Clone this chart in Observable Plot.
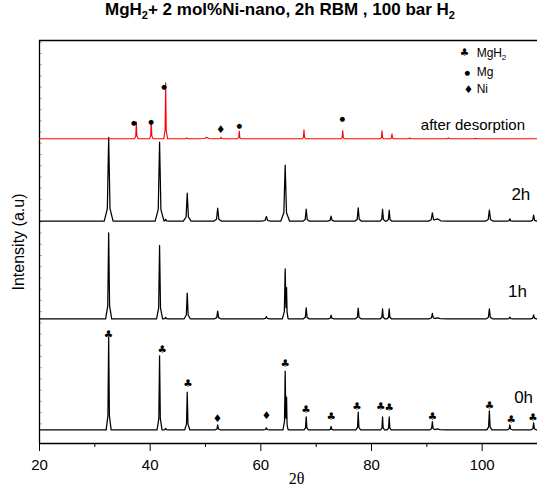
<!DOCTYPE html>
<html><head><meta charset="utf-8">
<script src="https://cdn.jsdelivr.net/npm/d3@7"></script>
<script src="https://cdn.jsdelivr.net/npm/@observablehq/plot@0.6"></script>
<style>
body{margin:0;background:#fff;}
#title{width:537px;height:34px;line-height:34px;box-sizing:border-box;padding-left:23px;text-align:center;font:bold 17px "Liberation Sans",Arial,sans-serif;color:#000;white-space:nowrap;}
#title sub{font-size:11px;vertical-align:-4px;line-height:0;}
</style></head><body>
<div id="title">MgH<sub>2</sub>+ 2 mol%Ni-nano, 2h RBM , 100 bar H<sub>2</sub></div>
<div id="chart"></div>
<script>
// ---- axis ticks ----
const xTicks = [20, 40, 60, 80, 100];
const xMinorTicks = [30, 50, 70, 90, 110];

// ---- hydride patterns (0h, 1h, 2h): peak positions (2θ), heights (a.u.), half-base widths (°) ----
const hydPos = [32.5, 41.7, 42.8, 46.7, 52.2, 61.0, 64.4, 64.65, 68.2, 72.7, 77.6, 82.0, 83.2, 91.0, 91.9, 101.3, 105.0, 109.3];
const h0h   = [92.6, 74, 1.5, 37.6, 5, 2, 57.6, 28, 13, 3.3, 17.6, 13, 13, 8, 1, 19, 5, 7];
const h1h   = [86, 73.3, 1.5, 25.7, 7.7, 2.3, 49, 26, 11, 3.7, 10.7, 10, 10, 5.3, 1, 10, 1.7, 4];
const h2h   = [83.7, 79, 2, 28, 13, 4.7, 56, 0, 12, 5, 13.3, 12, 11, 8, 2.5, 11, 2.3, 6];
const w0h   = [0.45, 0.45, 0.4, 0.45, 0.45, 0.5, 0.4, 0.3, 0.4, 0.4, 0.4, 0.35, 0.35, 0.45, 1.5, 0.45, 0.45, 0.45];
const w1h   = [0.55, 0.55, 0.45, 0.55, 0.55, 0.6, 0.5, 0.3, 0.5, 0.5, 0.5, 0.4, 0.4, 0.55, 1.8, 0.55, 0.5, 0.5];
const w2h   = [0.8, 0.8, 0.6, 0.7, 0.7, 0.8, 0.8, 0.3, 0.6, 0.6, 0.6, 0.5, 0.5, 0.7, 2.0, 0.7, 0.6, 0.6];

// ---- after desorption pattern ----
const desPos = [37.5, 40.2, 42.8, 46.6, 50.2, 52.8, 56.1, 67.8, 74.8, 81.9, 83.7, 86.9, 93.9, 98.8];
const desH   = [16.7, 18, 56, 1, 1.5, 1.5, 7.7, 9, 8.3, 8, 5, 1, 1, 0.7];
const desW   = [0.35, 0.35, 0.35, 0.5, 1.2, 0.5, 0.35, 0.35, 0.35, 0.35, 0.35, 0.5, 0.5, 0.5];

// ---- traces ----
const traceNames   = ["0h", "1h", "2h", "after desorption"];
const traceOffsets = [13.7, 124.7, 222.3, 304.7];
const labelRise    = [32, 27.6, 26.7, 13.3];
const labelRight   = [109.2, 108.1, 108.7, 107.75];

// ---- phase markers ----
const mgh2MarkPos  = [32.47, 42.17, 46.81, 64.39, 68.17, 72.7, 77.39, 81.68, 83.18, 91.0, 101.3, 105.27, 109.2];
const mgh2MarkRise = [95, 80, 46.6, 66, 20.3, 13.3, 23.3, 23, 22.3, 13.3, 24.3, 10, 12.6];
const ni0hMarkPos  = [52.16, 61.01];
const ni0hMarkRise = [11, 14];
const mgDesMarkPos  = [37.06, 40.18, 42.53, 56.13, 74.74];
const mgDesMarkRise = [15.6, 16.6, 51.6, 12.6, 19.6];
const niDesMarkPos  = [52.77];
const niDesMarkRise = [9];

// ---- legend ----
const legendSymbols = ["♣", "●", "♦"];
const legendNames   = ["MgH", "Mg", "Ni"];
const legendSubs    = ["2", "", ""];
const legendY       = [390.5, 371, 354.3];
const legendSymX    = [96.8, 97.3, 97.5];
const legendTextX   = 99.0;

const yTop = 403;

// peak shape template (piecewise linear)
const SHAPE_DX = [-1, -0.3, 0, 0.3, 1], SHAPE_FR = [0, 0.15, 1, 0.15, 0];
function shapeAt(d, x) {
  if (x <= d.p - d.w || x >= d.p + d.w) return 0;
  for (let i = 0; i < 4; i++) {
    const x0 = d.p + SHAPE_DX[i] * d.w, x1 = d.p + SHAPE_DX[i + 1] * d.w;
    if (x >= x0 && x <= x1) return d.h * (SHAPE_FR[i] + (SHAPE_FR[i + 1] - SHAPE_FR[i]) * (x - x0) / (x1 - x0));
  }
  return 0;
}
function profile(pos, hts, wds, offset, name) {
  const peaks = pos.map((p, i) => ({p, h: hts[i], w: wds[i]})).filter(d => d.h > 0);
  const xs = new Set([20, 110]);
  peaks.forEach(d => SHAPE_DX.forEach(k => xs.add(d.p + k * d.w)));
  return [...xs].filter(x => x >= 20 && x <= 110).sort((a, b) => a - b)
    .map(x => ({x, y: offset + d3.sum(peaks, d => shapeAt(d, x)), trace: name}));
}

const tr0 = profile(hydPos, h0h, w0h, traceOffsets[0], traceNames[0]);
const tr1 = profile(hydPos, h1h, w1h, traceOffsets[1], traceNames[1]);
const tr2 = profile(hydPos, h2h, w2h, traceOffsets[2], traceNames[2]);
const trD = profile(desPos, desH, desW, traceOffsets[3], traceNames[3]);

const markers = [
  ...mgh2MarkPos.map((x, i) => ({x, y: traceOffsets[0] + mgh2MarkRise[i], s: "♣"})),
  ...ni0hMarkPos.map((x, i) => ({x, y: traceOffsets[0] + ni0hMarkRise[i], s: "♦"})),
  ...mgDesMarkPos.map((x, i) => ({x, y: traceOffsets[3] + mgDesMarkRise[i], s: "●"})),
  ...niDesMarkPos.map((x, i) => ({x, y: traceOffsets[3] + niDesMarkRise[i], s: "♦"}))
];
const symSize = {"♣": 10.5, "●": 6.5, "♦": 10.5};

const yTicks = d3.range(19.7, yTop, 11.22);

const chart = Plot.plot({
  width: 537, height: 452,
  marginTop: 6, marginBottom: 43, marginLeft: 39, marginRight: 0,
  x: {domain: [20, 110]},
  y: {domain: [0, yTop], axis: null},
  style: {fontFamily: "'Liberation Sans', Arial, sans-serif", background: "#fff", color: "#000"},
  marks: [
    Plot.ruleY(yTicks, {x1: 20, x2: 20.55, stroke: "#999", strokeWidth: 0.8}),
    Plot.axisX({ticks: xTicks, tickSize: 8, tickPadding: 8, fontSize: 15, label: null, tickFormat: d => String(d)}),
    Plot.axisX({ticks: xMinorTicks, tickSize: 4, tickFormat: () => "", label: null}),
    Plot.ruleY([0], {strokeWidth: 1.3}),
    Plot.ruleY([yTop], {strokeWidth: 1.3}),
    Plot.ruleX([20], {strokeWidth: 1.3}),
    Plot.line(tr0, {x: "x", y: "y", stroke: "#000", strokeWidth: 1.25}),
    Plot.line(tr1, {x: "x", y: "y", stroke: "#000", strokeWidth: 1.25}),
    Plot.line(tr2, {x: "x", y: "y", stroke: "#000", strokeWidth: 1.25}),
    Plot.line(trD, {x: "x", y: "y", stroke: "#ff0000", strokeWidth: 1.1}),
    Plot.text(markers, {x: "x", y: "y", text: "s", fontSize: d => symSize[d.s], fontFamily: "DejaVu Sans", fill: "#000"}),
    Plot.text(traceNames.slice(0, 3), {x: (d, i) => labelRight[i], y: (d, i) => traceOffsets[i] + labelRise[i], text: d => d, textAnchor: "end", fontSize: 17}),
    Plot.text(traceNames.slice(3), {x: (d, i) => labelRight[3 + i], y: (d, i) => traceOffsets[3 + i] + labelRise[3 + i], text: d => d, textAnchor: "end", fontSize: 15}),
    Plot.text(legendSymbols, {x: (d, i) => legendSymX[i], y: (d, i) => legendY[i], text: d => d, fontSize: d => symSize[d], fontFamily: "DejaVu Sans"}),
    Plot.text(legendNames, {x: legendTextX, y: (d, i) => legendY[i], text: d => d, textAnchor: "start", fontSize: 12}),
    Plot.text(legendNames, {x: legendTextX, y: (d, i) => legendY[i], text: (d, i) => legendSubs[i], textAnchor: "start", fontSize: 8, dx: 25, dy: 4}),
    Plot.text(["Intensity (a.u)"], {frameAnchor: "left", textAnchor: "middle", rotate: -90, dx: -21, dy: 0, fontSize: 16}),
    Plot.text(["2θ"], {frameAnchor: "bottom", textAnchor: "middle", dx: 8, dy: 40, fontSize: 16, fontFamily: "'Liberation Serif', 'Times New Roman', serif"})
  ]
});
document.getElementById("chart").appendChild(chart);
</script>
</body></html>
